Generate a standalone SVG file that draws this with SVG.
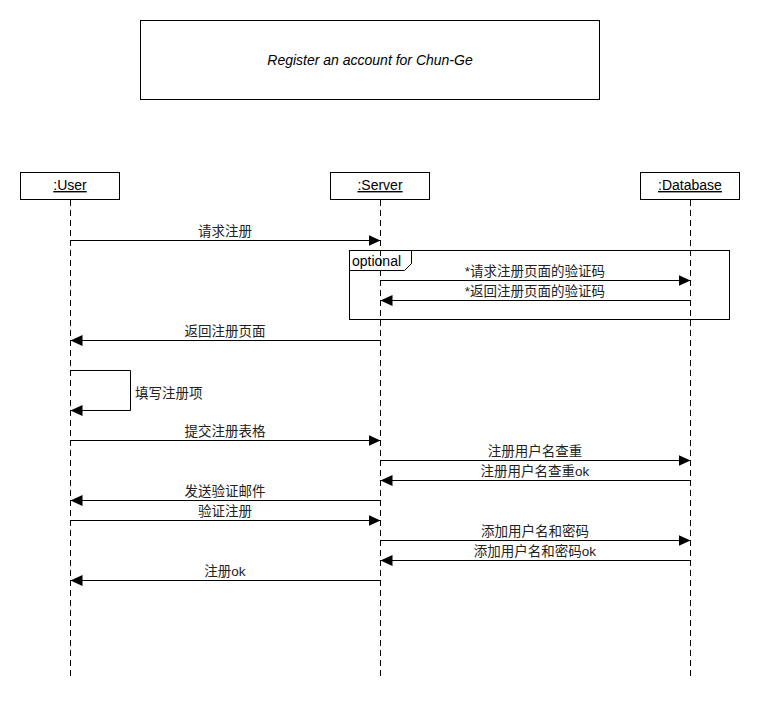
<svg xmlns="http://www.w3.org/2000/svg" width="760" height="720" viewBox="0 0 760 720">
  <defs>
    <marker id="arrow" viewBox="0 0 12 12" refX="12" refY="6" markerWidth="12" markerHeight="12" markerUnits="userSpaceOnUse" orient="auto">
      <path d="M0,0.5 L12,6 L0,11.5 Z" fill="#000"/>
    </marker>
    <style>
      text { font-family: "Liberation Sans", Arial, "Noto Sans CJK SC", sans-serif; font-size: 14px; fill: #000; }
      .box { fill: #fff; stroke: #000; stroke-width: 1; }
      .life { stroke: #000; stroke-width: 1; stroke-dasharray: 6 4; fill: none; }
      .msg { stroke: #000; stroke-width: 1; fill: none; marker-end: url(#arrow); }
      .frame { fill: none; stroke: #000; stroke-width: 1; }
      .lbl { text-anchor: middle; fill: #222; font-size: 13.5px; }
      .self { fill: #222; font-size: 13.5px; }
      .name { text-anchor: middle; text-decoration: underline; }
    </style>
  </defs>
  <rect width="760" height="720" fill="#fff"/>

  <!-- title note -->
  <g id="title">
    <rect class="box" x="140.5" y="20.5" width="459" height="79"/>
    <text x="370" y="65" text-anchor="middle" font-style="italic">Register an account for Chun-Ge</text>
  </g>

  <!-- participants with lifelines -->
  <g id="user">
    <line class="life" x1="70.5" y1="200" x2="70.5" y2="678"/>
    <rect class="box" x="20.5" y="172.5" width="99" height="27"/>
    <text class="name" x="70" y="190">:User</text>
  </g>
  <g id="server">
    <line class="life" x1="380.5" y1="200" x2="380.5" y2="678"/>
    <rect class="box" x="330.5" y="172.5" width="99" height="27"/>
    <text class="name" x="380" y="190">:Server</text>
  </g>
  <g id="database">
    <line class="life" x1="690.5" y1="200" x2="690.5" y2="678"/>
    <rect class="box" x="640.5" y="172.5" width="99" height="27"/>
    <text class="name" x="690" y="190">:Database</text>
  </g>

  <!-- optional combined fragment -->
  <g id="optional">
    <rect class="frame" x="349.5" y="250.5" width="380" height="69"/>
    <path class="frame" d="M349.5,270.5 H404.5 L411.5,263.5 V250.5"/>
    <text x="352" y="266">optional</text>
  </g>

  <!-- messages -->
  <g id="connectors">
    <line class="msg" x1="70.5" y1="240.5" x2="380.5" y2="240.5"/>
    <text class="lbl" x="225" y="236">请求注册</text>

    <line class="msg" x1="380.5" y1="280.5" x2="690.5" y2="280.5"/>
    <text class="lbl" x="535" y="276">*请求注册页面的验证码</text>

    <line class="msg" x1="690.5" y1="300.5" x2="380.5" y2="300.5"/>
    <text class="lbl" x="535" y="296">*返回注册页面的验证码</text>

    <line class="msg" x1="380.5" y1="340.5" x2="70.5" y2="340.5"/>
    <text class="lbl" x="225" y="336">返回注册页面</text>

    <path class="msg" d="M70.5,370.5 H130.5 V410.5 H70.5"/>
    <text class="self" x="135" y="398">填写注册项</text>

    <line class="msg" x1="70.5" y1="440.5" x2="380.5" y2="440.5"/>
    <text class="lbl" x="225" y="436">提交注册表格</text>

    <line class="msg" x1="380.5" y1="460.5" x2="690.5" y2="460.5"/>
    <text class="lbl" x="535" y="456">注册用户名查重</text>

    <line class="msg" x1="690.5" y1="480.5" x2="380.5" y2="480.5"/>
    <text class="lbl" x="535" y="476">注册用户名查重ok</text>

    <line class="msg" x1="380.5" y1="500.5" x2="70.5" y2="500.5"/>
    <text class="lbl" x="225" y="496">发送验证邮件</text>

    <line class="msg" x1="70.5" y1="520.5" x2="380.5" y2="520.5"/>
    <text class="lbl" x="225" y="516">验证注册</text>

    <line class="msg" x1="380.5" y1="540.5" x2="690.5" y2="540.5"/>
    <text class="lbl" x="535" y="536">添加用户名和密码</text>

    <line class="msg" x1="690.5" y1="560.5" x2="380.5" y2="560.5"/>
    <text class="lbl" x="535" y="556">添加用户名和密码ok</text>

    <line class="msg" x1="380.5" y1="580.5" x2="70.5" y2="580.5"/>
    <text class="lbl" x="225" y="576">注册ok</text>
  </g>
</svg>
